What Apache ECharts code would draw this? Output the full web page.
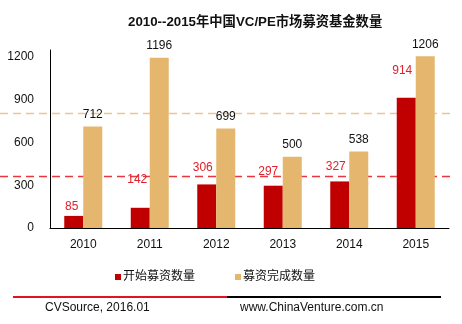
<!DOCTYPE html>
<html>
<head>
<meta charset="utf-8">
<style>
  html, body { margin: 0; padding: 0; background: #fff; }
  #chart { width: 462px; height: 324px; }
</style>
<script src="https://cdn.jsdelivr.net/npm/echarts@6/dist/echarts.min.js"></script>
</head>
<body>
<div id="chart"></div>
<script>
// Fundraising counts for China VC/PE funds, 2010-2015
const years = ['2010', '2011', '2012', '2013', '2014', '2015'];
const startedFunds = [85, 142, 306, 297, 327, 914];
const closedFunds = [712, 1196, 699, 500, 538, 1206];
const yTickValues = [0, 300, 600, 900, 1200];
// Reference levels drawn as dashed guides
const startedGuide = 365;
const closedGuide = 805;
// Nudges for the red value labels, so they sit clear of the guide line
const startedLabelNudge = [[-2, 2], [-3, -17], [-4, -6], [-5, -3], [-4, -4], [-4, -16]];

const FONT = "'Liberation Sans', Arial, 'Noto Sans CJK SC', sans-serif";
const RED = '#C00000';
const TAN = '#E5B76E';

const chart = echarts.init(document.getElementById('chart'), null, { renderer: 'canvas' });

const startedData = startedFunds.map((v, i) => ({
  value: v,
  label: { offset: startedLabelNudge[i] }
}));

chart.setOption({
  animation: false,
  backgroundColor: '#fff',
  title: {
    text: '2010--2015年中国VC/PE市场募资基金数量',
    left: 123,
    top: 11,
    textStyle: { fontFamily: FONT, fontSize: 13.3, fontWeight: 'bold', color: '#111' }
  },
  legend: {
    left: 110,
    top: 266,
    itemWidth: 6,
    itemHeight: 6,
    itemGap: 40,
    icon: 'rect',
    textStyle: { fontFamily: FONT, fontSize: 12, color: '#111', padding: [0, 0, 0, -3] },
    data: ['开始募资数量', '募资完成数量']
  },
  grid: { left: 50, right: 13, top: 50, bottom: 96, containLabel: false },
  xAxis: {
    type: 'category',
    data: years,
    axisLine: { lineStyle: { color: '#000', width: 1 } },
    axisTick: { show: false },
    axisLabel: { fontFamily: FONT, fontSize: 12, color: '#111', margin: 11 }
  },
  yAxis: {
    type: 'value',
    min: 0,
    max: 1250,
    interval: 300,
    axisLine: { show: true, lineStyle: { color: '#000', width: 1 } },
    axisTick: { show: false },
    splitLine: { show: false },
    axisLabel: {
      fontFamily: FONT, fontSize: 12, color: '#111', margin: 16,
      showMaxLabel: false,
      formatter: v => (yTickValues.indexOf(v) >= 0 ? String(v) : '')
    }
  },
  series: [
    {
      name: '开始募资数量',
      type: 'bar',
      data: startedData,
      barWidth: 19,
      barGap: 0,
      itemStyle: { color: RED },
      label: { show: true, position: 'top', distance: 5, fontFamily: FONT, fontSize: 12, color: '#E0202A' }
    },
    {
      name: '募资完成数量',
      type: 'bar',
      data: closedFunds,
      barWidth: 19,
      itemStyle: { color: TAN },
      label: { show: true, position: 'top', distance: 6, fontFamily: FONT, fontSize: 12, color: '#111' }
    }
  ]
});

// Dashed guide lines placed through the value axis, running across the full width
function guideLine(value, color) {
  const y = Math.round(chart.convertToPixel({ yAxisIndex: 0 }, value)) + 0.5;
  return {
    type: 'line',
    z: 1,
    shape: { x1: 0, y1: y, x2: 452, y2: y },
    style: { stroke: color, lineWidth: 1.3, lineDash: [8, 5] }
  };
}

chart.setOption({
  graphic: [
    guideLine(startedGuide, '#E8383F'),
    guideLine(closedGuide, '#E9C88F'),
    // footer rule: red then black
    { type: 'line', shape: { x1: 13, y1: 297, x2: 227, y2: 297 }, style: { stroke: '#E0141E', lineWidth: 2 } },
    { type: 'line', shape: { x1: 227, y1: 297, x2: 441, y2: 297 }, style: { stroke: '#000', lineWidth: 2 } },
    { type: 'text', left: 45, top: 302, style: { text: 'CVSource, 2016.01', font: '12px ' + FONT, fill: '#111' } },
    { type: 'text', left: 240, top: 302, style: { text: 'www.ChinaVenture.com.cn', font: '12px ' + FONT, fill: '#111' } }
  ]
});
</script>
</body>
</html>
